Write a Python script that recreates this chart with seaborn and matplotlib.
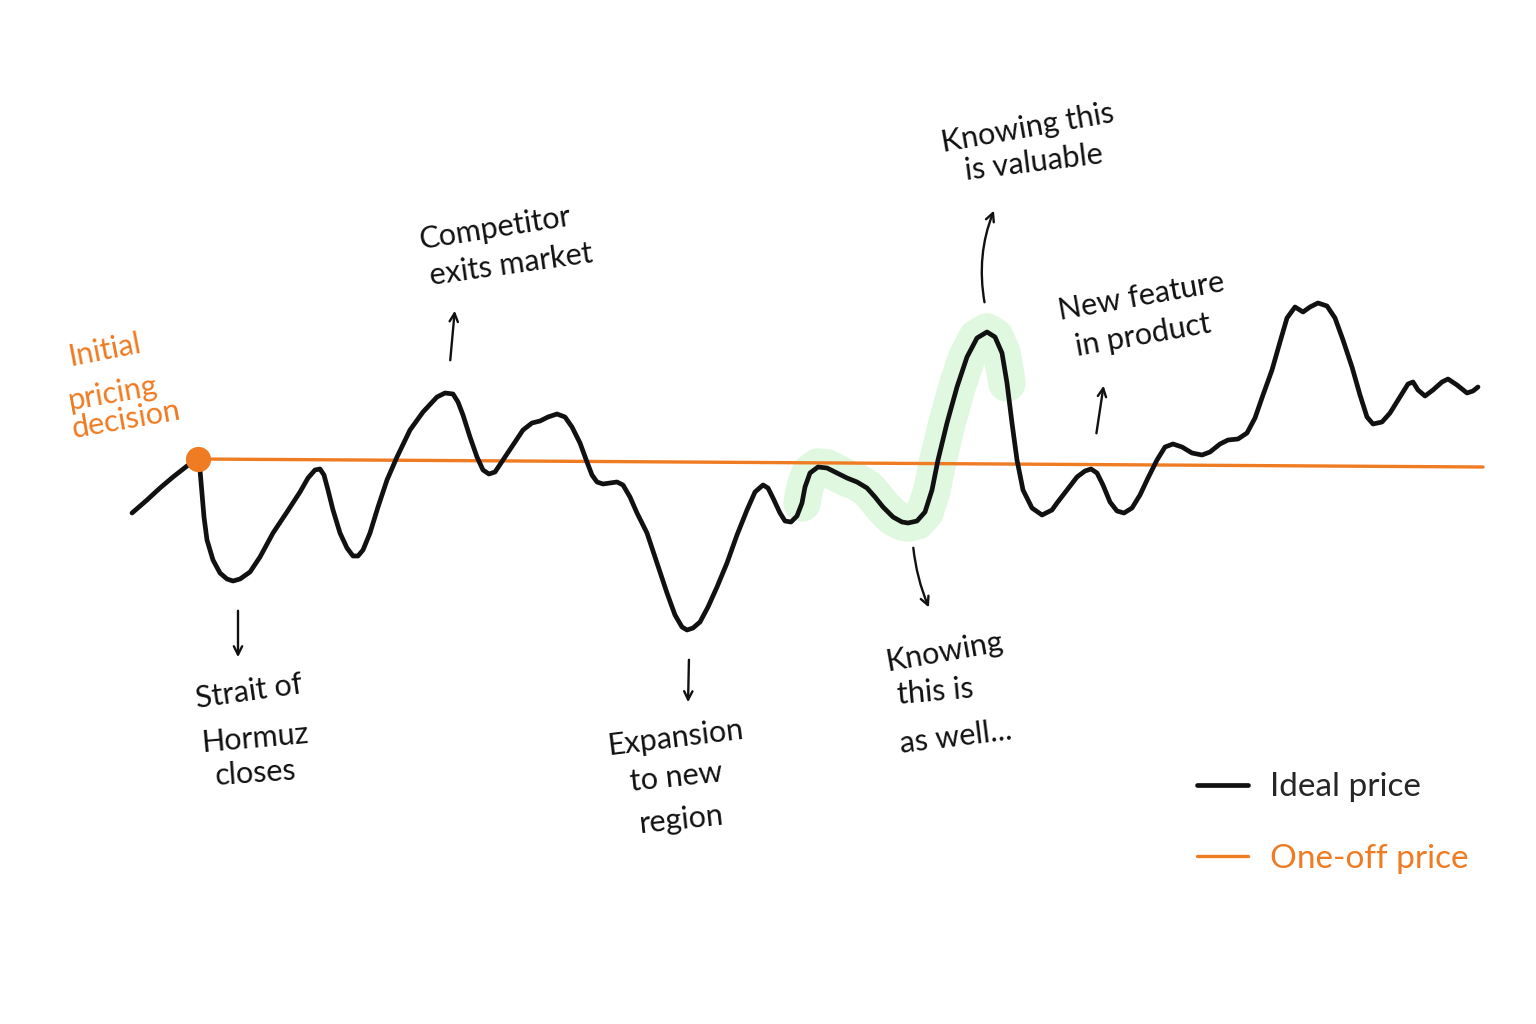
"""
Ideal price vs one-off price — sketch-style annotated line chart.
Output: out.png (1536x1024)
"""

import matplotlib
matplotlib.use('Agg')
import matplotlib.pyplot as plt
import seaborn as sns
import pandas as pd

sns.set_style('white')
plt.rcParams['font.family'] = ['Lato', 'DejaVu Sans']

ORANGE = '#ef7b22'
INK = '#111111'
GLOW = '#e0f8df'

# ideal price (time and price in arbitrary units)
ideal_t = [13.2, 14.7, 16.0, 17.3, 18.7, 19.5, 20.0, 20.2, 20.4, 20.7, 21.3, 22.0,
           22.7, 23.3, 24.0, 25.0, 26.0, 27.3, 28.7, 30.0, 30.8, 31.5, 32.0, 32.4,
           32.8, 33.3, 34.0, 34.7, 35.3, 35.8, 36.3, 37.0, 37.8, 38.7, 39.7, 41.0,
           42.3, 43.7, 44.5, 45.3, 45.8, 46.3, 47.0, 47.7, 48.3, 48.9, 49.5, 50.3,
           51.3, 52.3, 53.2, 54.0, 54.8, 55.7, 56.5, 57.2, 58.0, 58.7, 59.2, 59.7,
           60.3, 61.0, 61.7, 62.3, 63.0, 63.7, 64.7, 65.7, 66.7, 67.5, 68.2, 68.7,
           69.3, 70.0, 70.8, 71.7, 72.7, 73.7, 74.7, 75.5, 76.3, 76.8, 77.3, 78.0,
           78.5, 79.1, 79.7, 80.2, 80.5, 81.0, 81.8, 82.7, 83.7, 84.7, 85.7, 86.7,
           87.5, 88.3, 89.3, 90.2, 90.8, 91.7, 92.5, 93.2, 93.8, 94.7, 95.7, 96.7,
           97.7, 98.7, 99.5, 100.2, 100.7, 101.2, 101.7, 102.3, 103.2, 104.2, 105.2, 105.7,
           106.7, 107.7, 108.5, 109.1, 109.7, 110.3, 111.0, 111.7, 112.4, 113.2, 114.0, 114.8,
           115.7, 116.5, 117.3, 118.2, 119.2, 120.2, 121.0, 122.0, 122.8, 123.8, 124.7, 125.5,
           126.3, 127.2, 128.0, 128.7, 129.5, 130.3, 131.0, 131.8, 132.7, 133.5, 134.3, 135.2,
           136.0, 136.7, 137.3, 138.2, 139.0, 140.0, 140.8, 141.3, 141.8, 142.5, 143.3, 144.2,
           144.8, 145.7, 146.7, 147.3, 147.8]
ideal_price = [51.1, 52.4, 53.6, 54.7, 55.8, 56.2, 55.4, 53.1, 50.7, 48.4, 46.4, 45.1,
               44.5, 44.3, 44.5, 45.2, 46.7, 49.1, 51.2, 53.2, 54.6, 55.4, 55.5, 54.9,
               53.4, 51.4, 49.1, 47.6, 46.8, 46.8, 47.4, 49.1, 51.7, 54.4, 56.7, 59.4,
               61.2, 62.7, 63.1, 63.0, 62.2, 60.9, 58.7, 56.7, 55.4, 55.0, 55.2, 56.4,
               57.9, 59.4, 60.1, 60.3, 60.7, 61.0, 60.7, 59.7, 58.1, 56.2, 54.9, 54.2,
               54.0, 54.1, 54.2, 53.9, 52.7, 51.1, 49.1, 46.1, 43.1, 40.9, 39.7, 39.4,
               39.6, 40.2, 41.7, 43.7, 46.1, 48.9, 51.4, 53.2, 53.9, 53.6, 52.6, 51.1,
               50.3, 50.2, 50.8, 52.1, 53.7, 55.1, 55.7, 55.6, 55.1, 54.6, 54.2, 53.6,
               52.7, 51.7, 50.7, 50.2, 50.1, 50.3, 51.2, 53.4, 56.4, 60.1, 63.7, 66.7,
               68.6, 69.2, 68.7, 67.1, 64.1, 60.1, 56.4, 53.4, 51.6, 50.9, 51.4, 52.1,
               53.4, 54.7, 55.3, 55.5, 55.1, 53.9, 52.2, 51.3, 51.1, 51.6, 52.9, 54.6,
               56.4, 57.7, 58.0, 57.7, 57.1, 56.9, 57.2, 58.0, 58.4, 58.5, 59.1, 60.6,
               62.9, 65.4, 68.2, 70.6, 71.7, 71.2, 71.7, 72.1, 71.8, 70.6, 68.4, 65.7,
               62.9, 60.7, 60.0, 60.2, 61.1, 62.7, 64.0, 64.2, 63.4, 62.8, 63.4, 64.2,
               64.5, 63.9, 63.1, 63.3, 63.7]

# one-off price: fixed at the initial decision
oneoff_t = [19.8, 148.3]
oneoff_price = [56.5, 55.7]

# stretch of the curve that gets the green highlight
glow_start, glow_end = 80.2, 100.7

# annotation lines: text, anchor (t, price), rotation, colour
notes = [
    (['Initial', 'pricing', 'decision'], [(10.5, 67.4), (11.3, 63.1), (12.6, 60.4)], [11, 10, 10], ORANGE),
    (['Competitor', 'exits market'], [(49.5, 79.6), (51.1, 75.9)], [9, 8], INK),
    (['Strait of', 'Hormuz', 'closes'], [(24.9, 33.2), (25.5, 28.6), (25.6, 25.1)], [8, 5, 4], INK),
    (['Expansion', 'to new', 'region'], [(67.5, 28.6), (67.6, 24.7), (68.2, 20.4)], [7, 6, 6], INK),
    (['Knowing this', 'is valuable'], [(102.8, 89.6), (103.4, 86.1)], [10, 7], INK),
    (['New feature', 'in product'], [(114.1, 72.7), (114.3, 68.9)], [10, 10], INK),
    (['Knowing', 'this is', 'as well...'], [(94.4, 37.2), (93.5, 33.2), (95.6, 28.7)], [10, 5, 7], INK),
]

# arrows: tail, head, curvature
arrows = [
    ((45.0, 66.1), (45.5, 71.6), 0.0),
    ((23.8, 41.6), (23.8, 36.4), 0.0),
    ((68.9, 36.7), (68.8, 31.9), 0.0),
    ((98.5, 71.9), (99.5, 81.6), -0.15),
    ((109.6, 58.8), (110.4, 64.1), 0.0),
    ((91.3, 47.9), (93.0, 41.4), 0.08),
]


def main():
    ideal = pd.DataFrame({'t': ideal_t, 'price': ideal_price})
    oneoff = pd.DataFrame({'t': oneoff_t, 'price': oneoff_price})
    glow = ideal[(ideal['t'] >= glow_start) & (ideal['t'] <= glow_end)]

    fig = plt.figure(figsize=(15.36, 10.24), dpi=100)
    fig.patch.set_facecolor('white')
    ax = fig.add_axes([0, 0, 1, 1])

    sns.lineplot(data=glow, x='t', y='price', ax=ax, color=GLOW, linewidth=27,
                 solid_capstyle='round', solid_joinstyle='round', zorder=1)
    sns.lineplot(data=oneoff, x='t', y='price', ax=ax, color=ORANGE, linewidth=2.4,
                 zorder=2, label='One-off price')
    sns.lineplot(data=ideal, x='t', y='price', ax=ax, color=INK, linewidth=3.4,
                 solid_capstyle='round', solid_joinstyle='round', zorder=3,
                 label='Ideal price')
    sns.scatterplot(data=oneoff.iloc[:1], x='t', y='price', ax=ax, color=ORANGE,
                    s=330, linewidth=0, zorder=4)

    for lines, pos, rots, col in notes:
        for txt, (x, y), r in zip(lines, pos, rots):
            ax.text(x, y, txt, color=col, fontsize=22, rotation=r,
                    ha='center', va='center', rotation_mode='anchor')

    for tail, head, rad in arrows:
        ax.annotate('', xy=head, xytext=tail,
                    arrowprops=dict(arrowstyle='->,head_length=0.6,head_width=0.3',
                                    color=INK, lw=1.7,
                                    connectionstyle=f'arc3,rad={rad}'))

    ax.set_xlim(0, 153.6)
    ax.set_ylim(0, 102.4)
    ax.axis('off')

    h, l = ax.get_legend_handles_labels()
    order = [l.index('Ideal price'), l.index('One-off price')]
    leg = ax.legend([h[i] for i in order], [l[i] for i in order],
                    loc='center left', bbox_to_anchor=(0.779, 0.196),
                    frameon=False, fontsize=24, handlelength=1.55,
                    handletextpad=0.65, labelspacing=1.25, borderpad=0,
                    borderaxespad=0)
    leg.get_texts()[1].set_color(ORANGE)

    fig.savefig('out.png', dpi=100, facecolor='white')
    plt.close(fig)


if __name__ == "__main__":
    main()
